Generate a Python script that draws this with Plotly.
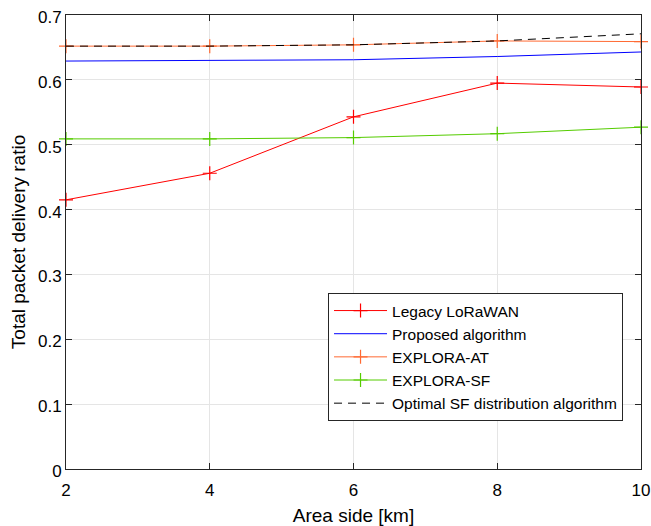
import plotly.graph_objects as go

area_side = [2, 4, 6, 8, 10]
legacy = [0.415, 0.456, 0.543, 0.595, 0.589]
proposed = [0.629, 0.630, 0.631, 0.636, 0.643]
explora_at = [0.652, 0.652, 0.654, 0.660, 0.659]
explora_sf = [0.509, 0.509, 0.511, 0.517, 0.527]
optimal = [0.652, 0.652, 0.654, 0.660, 0.671]

x_ticks = [2, 4, 6, 8, 10]
y_ticks = [0, 0.1, 0.2, 0.3, 0.4, 0.5, 0.6, 0.7]
y_tick_labels = ["0", "0.1", "0.2", "0.3", "0.4", "0.5", "0.6", "0.7"]

fig = go.Figure()

def add(name, y, color, marker=True, dash="solid"):
    fig.add_trace(go.Scatter(
        x=area_side, y=y, name=name,
        mode="lines+markers" if marker else "lines",
        line=dict(color=color, width=1, dash=dash),
        marker=dict(symbol="cross-thin", size=10, line=dict(color=color, width=1.2)),
        cliponaxis=False,
    ))

add("Legacy LoRaWAN", legacy, "#ff0000")
add("Proposed algorithm", proposed, "#0000ff", marker=False)
add("EXPLORA-AT", explora_at, "#ff6a33")
add("EXPLORA-SF", explora_sf, "#55cc00")
add("Optimal SF distribution algorithm", optimal, "#000000", marker=False, dash="8px,6px")

FONT = "Liberation Sans, Arial, sans-serif"

axis_common = dict(
    showline=True, linecolor="#262626", linewidth=1, mirror="ticks",
    ticks="inside", ticklen=6, tickcolor="#262626",
    showgrid=True, gridcolor="#e5e5e5", gridwidth=1, zeroline=False,
    automargin=False, ticklabeloverflow="allow",
    tickfont=dict(family=FONT, size=17, color="#000000"),
)

fig.update_layout(
    width=651, height=526,
    margin=dict(l=66, r=10, t=15, b=57),
    plot_bgcolor="white", paper_bgcolor="white",
    font=dict(family=FONT, size=15, color="#000000"),
    xaxis=dict(range=[2, 10], tickvals=x_ticks, ticklabelstandoff=6,
               title=dict(text="Area side [km]", font=dict(size=19), standoff=10),
               **axis_common),
    yaxis=dict(range=[0, 0.7], tickvals=y_ticks, ticktext=y_tick_labels,
               ticklabelshift=2,
               title=dict(text="Total packet delivery ratio", font=dict(size=19), standoff=7),
               **axis_common),
    legend=dict(x=0.4557, y=0.3877, xanchor="left", yanchor="top",
                bgcolor="white", bordercolor="#262626", borderwidth=1,
                font=dict(size=15.5), tracegroupgap=0, itemwidth=53),
    showlegend=True,
)

# remove the default 8px page margin so the figure fills the window exactly
fig.write_html("out.html", config={"displayModeBar": False},
               post_script="document.body.style.margin='0';")
